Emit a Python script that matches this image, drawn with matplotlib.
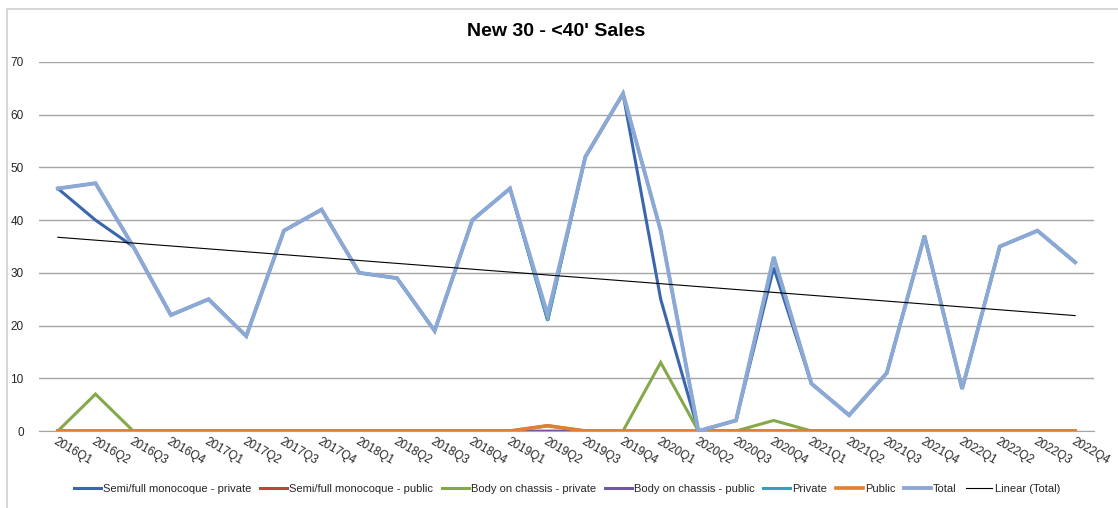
import matplotlib
matplotlib.use("Agg")
import matplotlib.pyplot as plt
import numpy as np
from matplotlib.patches import Rectangle

plt.rcParams['font.family'] = ['Liberation Sans', 'DejaVu Sans']

quarters = [f"{y}Q{q}" for y in range(2016, 2023) for q in range(1, 5)]

semi_private = [46, 40, 35, 22, 25, 18, 38, 42, 30, 29, 19, 40, 46, 21, 52, 64,
                25, 0, 2, 31, 9, 3, 11, 37, 8, 35, 38, 32]
semi_public = [0, 0, 0, 0, 0, 0, 0, 0, 0, 0, 0, 0, 0, 1, 0, 0,
               0, 0, 0, 0, 0, 0, 0, 0, 0, 0, 0, 0]
body_private = [0, 7, 0, 0, 0, 0, 0, 0, 0, 0, 0, 0, 0, 0, 0, 0,
                13, 0, 0, 2, 0, 0, 0, 0, 0, 0, 0, 0]
body_public = [0, 0, 0, 0, 0, 0, 0, 0, 0, 0, 0, 0, 0, 0, 0, 0,
               0, 0, 0, 0, 0, 0, 0, 0, 0, 0, 0, 0]
private = [46, 47, 35, 22, 25, 18, 38, 42, 30, 29, 19, 40, 46, 21, 52, 64,
           38, 0, 2, 33, 9, 3, 11, 37, 8, 35, 38, 32]
public = [0, 0, 0, 0, 0, 0, 0, 0, 0, 0, 0, 0, 0, 1, 0, 0,
          0, 0, 0, 0, 0, 0, 0, 0, 0, 0, 0, 0]
total = [46, 47, 35, 22, 25, 18, 38, 42, 30, 29, 19, 40, 46, 22, 52, 64,
         38, 0, 2, 33, 9, 3, 11, 37, 8, 35, 38, 32]

fig = plt.figure(figsize=(11.18, 5.08), dpi=100)
ax = fig.add_axes([39/1118, 1-431/508, (1094-39)/1118, (431-62)/508])

x = np.arange(len(quarters))
series = [
    ("Semi/full monocoque - private", semi_private, '#3A67AB', 2.2),
    ("Semi/full monocoque - public", semi_public, '#BC4340', 2.2),
    ("Body on chassis - private", body_private, '#84A84A', 2.2),
    ("Body on chassis - public", body_public, '#7258A0', 2.2),
    ("Private", private, '#3C9DBB', 2.2),
    ("Public", public, '#E2802F', 2.6),
    ("Total", total, '#8CA8D4', 2.8),
]
for name, vals, col, lw in series:
    ax.plot(x, vals, color=col, lw=lw, label=name, solid_joinstyle='miter', zorder=3)

coef = np.polyfit(x + 1, total, 1)
trend = np.polyval(coef, x + 1)
ax.plot(x, trend, color='black', lw=0.8, label='Linear (Total)', zorder=4)

ax.set_xlim(-0.5, len(quarters) - 0.5)
ax.set_ylim(0, 70)
ax.set_yticks(range(0, 71, 10))
ax.yaxis.grid(True, color='#A6A6A6', lw=1.0)
ax.set_axisbelow(True)
for s in ['top', 'right', 'left']:
    ax.spines[s].set_visible(False)
ax.spines['bottom'].set_color('#A6A6A6')
ax.tick_params(axis='y', length=0, pad=11, labelsize=8.5, labelcolor='#262626')
ax.tick_params(axis='x', length=0, pad=3, labelsize=8.5, labelcolor='#262626')
ax.set_xticks(x)
ax.set_xticklabels(quarters, rotation=-30, ha='left', va='top', rotation_mode='anchor')

fig.text(0.497, 1-32/508, "New 30 - <40' Sales", ha='center', va='center',
         fontsize=14, fontweight='bold')

fig.patches.append(Rectangle((7/1118, -0.1), 1.2, 1-9/508+0.1, transform=fig.transFigure,
                             fill=False, edgecolor='#D0D0D0', lw=1.2))

leg = fig.legend(loc='center', bbox_to_anchor=(567/1118, 1-489/508), ncol=8, frameon=False,
                 fontsize=8, handlelength=2.4, handletextpad=0.2, columnspacing=0.8)
for t in leg.get_texts():
    t.set_color('#262626')

fig.savefig("out.png", dpi=100)
